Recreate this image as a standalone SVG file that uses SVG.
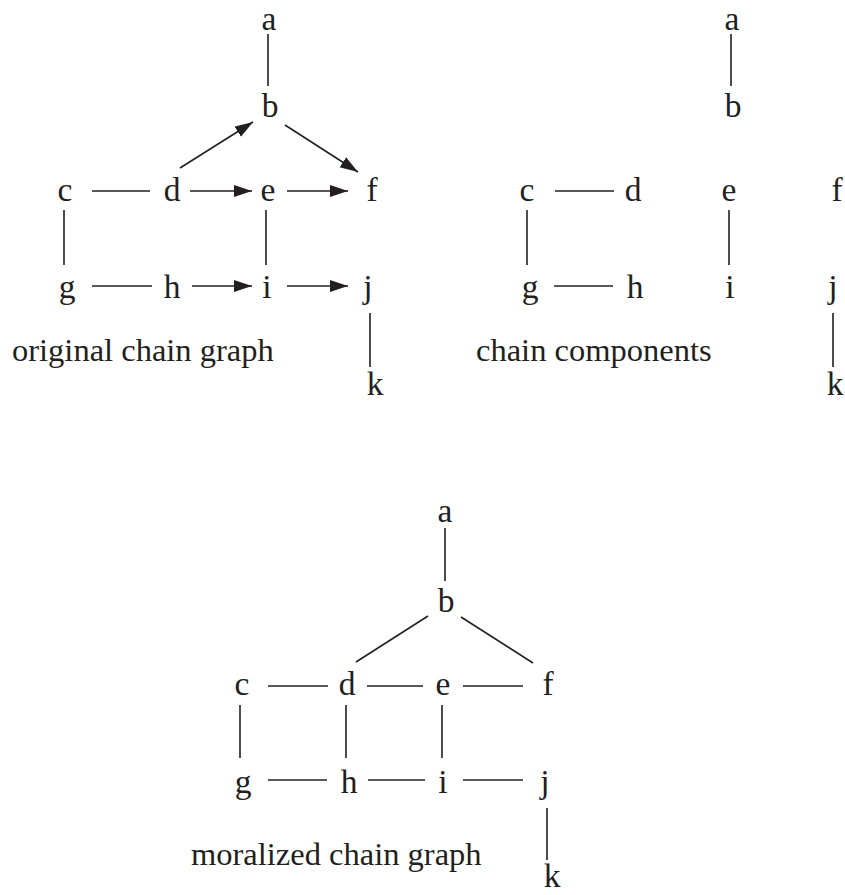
<svg xmlns="http://www.w3.org/2000/svg" width="845" height="895" viewBox="0 0 845 895">
<style>
text{font-family:"Liberation Serif","Times New Roman",serif;font-size:32.5px;fill:#231f20}
.n{text-anchor:middle;font-size:33.5px}
.e{stroke:#231f20;stroke-width:1.6;fill:none}
.a{marker-end:url(#ah)}
</style>
<defs>
<marker id="ah" markerUnits="userSpaceOnUse" markerWidth="19" markerHeight="13" refX="18" refY="6" orient="auto">
<path d="M0,0 L18,6 L0,12 z" fill="#231f20"/>
</marker>
</defs>
<rect width="845" height="895" fill="#fff"/>
<g id="connectors">
<!-- graph 1 -->
<line class="e" x1="268" y1="34" x2="268" y2="86"/>
<line class="e a" x1="180" y1="168" x2="253" y2="122"/>
<line class="e a" x1="285" y1="125" x2="358" y2="172"/>
<line class="e" x1="92" y1="191" x2="150" y2="191"/>
<line class="e a" x1="190" y1="191" x2="252" y2="191"/>
<line class="e a" x1="287" y1="191" x2="348" y2="191"/>
<line class="e" x1="64" y1="210" x2="64" y2="265"/>
<line class="e" x1="266" y1="210" x2="266" y2="265"/>
<line class="e" x1="92" y1="286" x2="152" y2="286"/>
<line class="e a" x1="192" y1="286" x2="252" y2="286"/>
<line class="e a" x1="287" y1="286" x2="348" y2="286"/>
<line class="e" x1="370" y1="313" x2="370" y2="367"/>
<!-- graph 2 -->
<line class="e" x1="731" y1="34" x2="731" y2="86"/>
<line class="e" x1="555" y1="191" x2="614" y2="191"/>
<line class="e" x1="527" y1="210" x2="527" y2="265"/>
<line class="e" x1="729" y1="210" x2="729" y2="265"/>
<line class="e" x1="554" y1="286" x2="613" y2="286"/>
<line class="e" x1="833" y1="313" x2="833" y2="367"/>
<!-- graph 3 -->
<line class="e" x1="445" y1="528" x2="445" y2="581"/>
<line class="e" x1="428" y1="616" x2="356" y2="662"/>
<line class="e" x1="461" y1="617" x2="533" y2="663"/>
<line class="e" x1="268" y1="686" x2="328" y2="686"/>
<line class="e" x1="367" y1="686" x2="423" y2="686"/>
<line class="e" x1="463" y1="686" x2="523" y2="686"/>
<line class="e" x1="240" y1="705" x2="240" y2="758"/>
<line class="e" x1="346" y1="705" x2="346" y2="758"/>
<line class="e" x1="442" y1="705" x2="442" y2="758"/>
<line class="e" x1="268" y1="780" x2="327" y2="780"/>
<line class="e" x1="368" y1="780" x2="425" y2="780"/>
<line class="e" x1="463" y1="780" x2="523" y2="780"/>
<line class="e" x1="547" y1="808" x2="547" y2="860"/>
</g>
<g id="g1">
<g id="g1-a"><text class="n" x="269" y="30">a</text></g>
<g id="g1-b"><text class="n" x="270" y="117">b</text></g>
<g id="g1-c"><text class="n" x="65" y="201">c</text></g>
<g id="g1-d"><text class="n" x="172" y="201">d</text></g>
<g id="g1-e"><text class="n" x="268" y="201">e</text></g>
<g id="g1-f"><text class="n" x="372" y="201">f</text></g>
<g id="g1-g"><text class="n" x="67" y="298">g</text></g>
<g id="g1-h"><text class="n" x="172" y="298">h</text></g>
<g id="g1-i"><text class="n" x="267" y="298">i</text></g>
<g id="g1-j"><text class="n" x="368" y="298">j</text></g>
<g id="g1-k"><text class="n" x="375" y="395">k</text></g>
<g id="g1-label"><text x="12" y="361">original chain graph</text></g>
</g>
<g id="g2">
<g id="g2-a"><text class="n" x="732" y="30">a</text></g>
<g id="g2-b"><text class="n" x="733" y="117">b</text></g>
<g id="g2-c"><text class="n" x="527" y="201">c</text></g>
<g id="g2-d"><text class="n" x="633" y="201">d</text></g>
<g id="g2-e"><text class="n" x="729" y="201">e</text></g>
<g id="g2-f"><text class="n" x="837" y="201">f</text></g>
<g id="g2-g"><text class="n" x="530" y="298">g</text></g>
<g id="g2-h"><text class="n" x="635" y="298">h</text></g>
<g id="g2-i"><text class="n" x="730" y="298">i</text></g>
<g id="g2-j"><text class="n" x="833" y="298">j</text></g>
<g id="g2-k"><text class="n" x="835" y="395">k</text></g>
<g id="g2-label"><text x="476" y="361">chain components</text></g>
</g>
<g id="g3">
<g id="g3-a"><text class="n" x="445" y="522">a</text></g>
<g id="g3-b"><text class="n" x="446" y="612">b</text></g>
<g id="g3-c"><text class="n" x="242" y="695">c</text></g>
<g id="g3-d"><text class="n" x="347" y="695">d</text></g>
<g id="g3-e"><text class="n" x="443" y="695">e</text></g>
<g id="g3-f"><text class="n" x="548" y="695">f</text></g>
<g id="g3-g"><text class="n" x="243" y="793">g</text></g>
<g id="g3-h"><text class="n" x="349" y="793">h</text></g>
<g id="g3-i"><text class="n" x="443" y="793">i</text></g>
<g id="g3-j"><text class="n" x="545" y="793">j</text></g>
<g id="g3-k"><text class="n" x="552" y="887">k</text></g>
<g id="g3-label"><text x="191" y="865">moralized chain graph</text></g>
</g>
</svg>
